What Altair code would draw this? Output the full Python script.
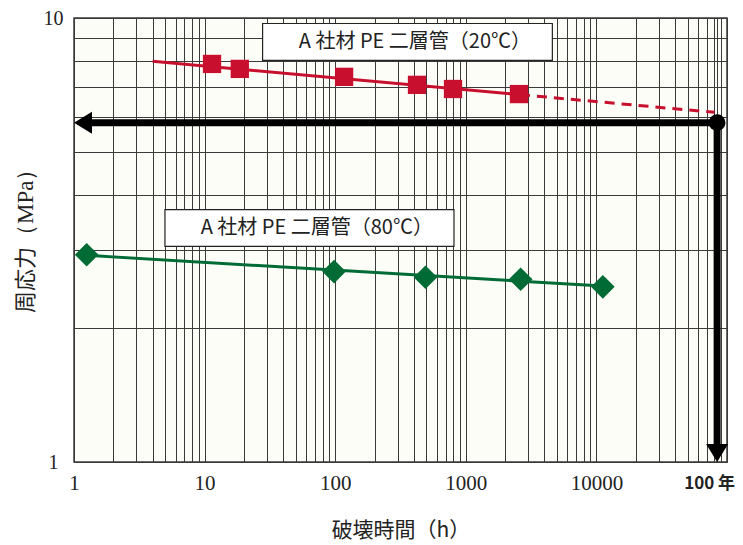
import altair as alt
import pandas as pd

# ---------------- data ----------------
x_ticks = [1, 2, 3, 4, 5, 6, 7, 8, 9,
           10, 20, 30, 40, 50, 60, 70, 80, 90,
           100, 200, 300, 400, 500, 600, 700, 800, 900,
           1000, 2000, 3000, 4000, 5000, 6000, 7000, 8000, 9000,
           10000, 20000, 30000, 40000, 50000, 60000, 70000, 80000, 90000,
           100000, 84000]
x_label_values = [1, 10, 100, 1000, 10000]
y_ticks = [1, 2, 3, 4, 5, 6, 7, 8, 9, 10]
y_label_values = [1, 10]

life_100y = 84000          # position of "100 年" on the time axis (h)
design_stress = 5.81       # MPa at 100 years

red_t = [11.4, 18.6, 117, 423, 798, 2553]
red_s = [7.88, 7.68, 7.37, 7.07, 6.92, 6.74]
red_fit_t = [4.0, 2600]
red_fit_s = [7.99, 6.72]
red_ext_t = [2600, 80200]
red_ext_s = [6.72, 6.13]

green_t = [1.25, 98, 491, 2630, 11200]
green_s = [2.93, 2.685, 2.607, 2.58, 2.48]
green_fit_t = [1.25, 11200]
green_fit_s = [2.92, 2.49]

labels = ["A 社材 PE 二層管（20℃）", "A 社材 PE 二層管（80℃）"]
label_t = [408, 72.3]
label_s = [8.84, 3.36]
box_t1 = [27.8, 4.97]
box_t2 = [4600, 812]
box_s1 = [9.72, 3.70]
box_s2 = [8.03, 3.06]

x_title = "破壊時間（h）"
y_title_main = "周応力"
y_title_unit = "（MPa）"

RED = "#c8102e"
GREEN = "#006b35"

# ---------------- scales / axes ----------------
xscale = alt.Scale(type="log", domain=[1, 100000], nice=False)
yscale = alt.Scale(type="log", domain=[1, 10], nice=False)

x_expr = ("datum.value == %d ? '100 年' : (indexof(%s, datum.value) >= 0 ? format(datum.value, 'd') : '')"
          % (life_100y, str(x_label_values)))
y_expr = "indexof(%s, datum.value) >= 0 ? format(datum.value, 'd') : ''" % str(y_label_values)

is100 = "datum.value == %d" % life_100y

xaxis = alt.Axis(
    values=x_ticks, grid=True, gridColor="#3a3a3a", gridWidth=1, gridOpacity=1,
    ticks=False, tickSize=0, domain=False,
    labelExpr=x_expr, labelFlush=False, labelOverlap=False, labelBound=False,
    labelFont={"condition": {"test": is100, "value": "Noto Sans CJK JP"},
               "value": "Liberation Serif"},
    labelFontWeight={"condition": {"test": is100, "value": "bold"}, "value": "normal"},
    labelFontSize={"condition": {"test": is100, "value": 17}, "value": 21},
    labelOffset={"condition": {"test": is100, "value": -8}, "value": 0},
    labelColor="#222", labelPadding=21, labelBaseline="middle",
    title=x_title, titleFont="Noto Sans CJK JP", titleFontSize=21,
    titleFontWeight="normal", titleColor="#222",
    titleBaseline="middle", titleAlign="center", titleY=68,
)
yaxis = alt.Axis(
    values=y_ticks, grid=True, gridColor="#3a3a3a", gridWidth=1, gridOpacity=1,
    ticks=False, tickSize=0, domain=False,
    labelExpr=y_expr, labelFont="Liberation Serif", labelFontSize=20, labelColor="#222",
    labelAlign="center", labelBaseline="middle", labelPadding=21,
    labelFlush=False, labelOverlap=False, labelBound=False,
    title="",
)


def X(f):
    return alt.X(f, type="quantitative", scale=xscale, axis=xaxis)


def Y(f):
    return alt.Y(f, type="quantitative", scale=yscale, axis=yaxis)


red_df = pd.DataFrame({"t": red_t, "s": red_s})
red_fit = pd.DataFrame({"t": red_fit_t, "s": red_fit_s})
red_ext = pd.DataFrame({"t": red_ext_t, "s": red_ext_s})
green_df = pd.DataFrame({"t": green_t, "s": green_s})
green_fit = pd.DataFrame({"t": green_fit_t, "s": green_fit_s})
lab_df = pd.DataFrame({"label": labels, "t": label_t, "s": label_s,
                       "t1": box_t1, "t2": box_t2, "s1": box_s1, "s2": box_s2})
pt_df = pd.DataFrame({"t": [life_100y], "s": [design_stress]})
h_arrow = pd.DataFrame({"t": [1.2], "t2": [life_100y], "s": [design_stress]})
v_arrow = pd.DataFrame({"t": [life_100y], "s": [design_stress], "s2": [1.06]})
left_head = pd.DataFrame({"t": [1], "s": [design_stress]})
down_head = pd.DataFrame({"t": [life_100y], "s": [1]})
ytitle_main_df = pd.DataFrame({"label": [y_title_main]})
ytitle_unit_df = pd.DataFrame({"label": [y_title_unit]})

l_red_fit = alt.Chart(red_fit).mark_line(color=RED, strokeWidth=3).encode(x=X("t"), y=Y("s"))
l_red_ext = alt.Chart(red_ext).mark_line(color=RED, strokeWidth=3, strokeDash=[10, 7]).encode(x=X("t"), y=Y("s"))
l_green_fit = alt.Chart(green_fit).mark_line(color=GREEN, strokeWidth=3).encode(x=X("t"), y=Y("s"))
p_red = alt.Chart(red_df).mark_point(shape="square", filled=True, opacity=1, color=RED, size=335, strokeWidth=0).encode(x=X("t"), y=Y("s"))
p_green = alt.Chart(green_df).mark_point(shape="diamond", filled=True, opacity=1, color=GREEN, size=560, strokeWidth=0).encode(x=X("t"), y=Y("s"))

r_h = alt.Chart(h_arrow).mark_rule(color="black", strokeWidth=7).encode(x=X("t"), x2="t2", y=Y("s"))
r_v = alt.Chart(v_arrow).mark_rule(color="black", strokeWidth=7).encode(x=X("t"), y=Y("s"), y2="s2")
head_l = alt.Chart(left_head).mark_point(shape="M0,0L1.8,-1.1L1.8,1.1Z", filled=True, opacity=1,
                                         color="black", size=400, strokeWidth=0).encode(x=X("t"), y=Y("s"))
head_d = alt.Chart(down_head).mark_point(shape="M0,0L-1.1,-1.8L1.1,-1.8Z", filled=True, opacity=1,
                                         color="black", size=400, strokeWidth=0).encode(x=X("t"), y=Y("s"))
dot = alt.Chart(pt_df).mark_point(shape="circle", filled=True, opacity=1, color="black", size=280,
                                  strokeWidth=0).encode(x=X("t"), y=Y("s"))

boxes = alt.Chart(lab_df).mark_rect(fill="white", stroke="#222", strokeWidth=1.2).encode(
    x=X("t1"), x2="t2", y=Y("s1"), y2="s2")
texts = alt.Chart(lab_df).mark_text(font="Noto Sans CJK JP", fontSize=20, color="#222",
                                    align="center", baseline="middle").encode(
    x=X("t"), y=Y("s"), text="label:N")

# y-axis title: kanji in sans, unit in serif (as in the original)
ytitle_main = alt.Chart(ytitle_main_df).mark_text(
    font="Noto Sans CJK JP", fontSize=22, color="#222", angle=270,
    align="right", baseline="middle").encode(
    x=alt.value(-48), y=alt.value(229), text="label:N")
ytitle_unit = alt.Chart(ytitle_unit_df).mark_text(
    font="Liberation Serif", fontSize=23, color="#222", angle=270,
    align="left", baseline="middle").encode(
    x=alt.value(-48), y=alt.value(229), text="label:N")

chart = alt.layer(
    l_red_fit, l_red_ext, l_green_fit, p_red, p_green,
    r_h, r_v, head_l, head_d, dot, boxes, texts, ytitle_main, ytitle_unit
).properties(
    width=653, height=444,
    padding={"left": 66, "top": 10, "right": 8, "bottom": 80},
    autosize=alt.AutoSizeParams(type="none"),
    background="white",
).configure_view(
    fill="#fdfdf8", stroke="#3a3a3a", strokeWidth=1.5
)

chart.save("out.html", embed_options={"renderer": "svg", "actions": False})
